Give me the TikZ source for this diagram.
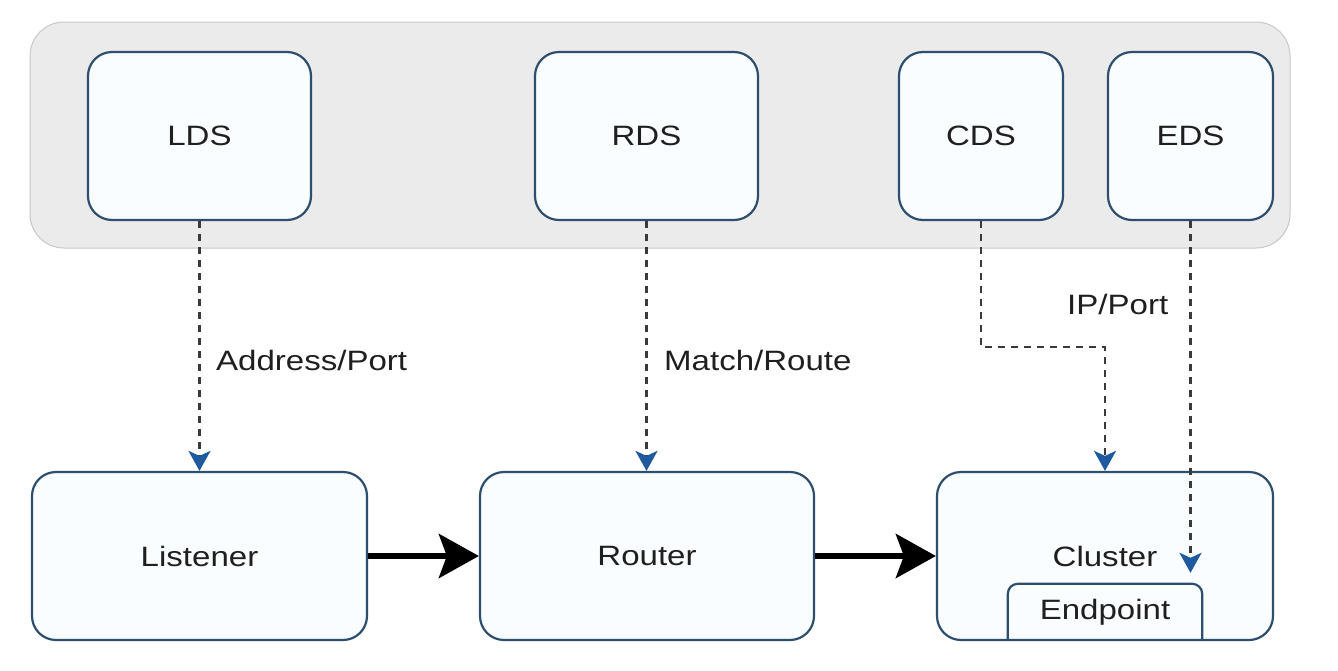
\documentclass[tikz,border=0pt]{standalone}
\usepackage{fontspec}
\setmainfont[FakeStretch=1.18]{Liberation Sans}
\usetikzlibrary{arrows.meta}
\definecolor{panelgray}{HTML}{EBEBEB}
\definecolor{panelline}{HTML}{C8C8C8}
\definecolor{boxline}{HTML}{2E4E6E}
\definecolor{boxfill}{HTML}{FAFDFF}
\definecolor{tipblue}{HTML}{1F5A9E}
\definecolor{dashgray}{HTML}{3A3A3A}
\begin{document}
\begin{tikzpicture}[x=1pt,y=-1pt,
  box/.style={draw=boxline, line width=2.2pt, fill=boxfill, rounded corners=24pt,
    font=\fontsize{28}{32}\selectfont, text=black!88, inner sep=0pt},
  lbl/.style={font=\fontsize{28}{32}\selectfont, text=black!88, inner sep=0pt, anchor=west},
  dasharrow/.style={draw=dashgray, line width=2.8pt, dash pattern=on 7pt off 6pt,
    -{Stealth[length=20pt,width=22pt,inset=5pt,color=tipblue]}},
  flow/.style={draw=black, line width=6pt,
    -{Stealth[length=40pt,width=44pt,inset=8pt]}}
]
\useasboundingbox (0,0) rectangle (1338,670);
\fill[white] (0,0) rectangle (1338,670);
\draw[panelline, fill=panelgray, line width=1pt, rounded corners=34pt] (30,22) rectangle (1290,248);

\node[box, minimum width=223pt, minimum height=168pt] (LDS) at (199.5,136) {LDS};
\node[box, minimum width=223pt, minimum height=168pt] (RDS) at (646.5,136) {RDS};
\node[box, minimum width=164pt, minimum height=168pt] (CDS) at (981,136) {CDS};
\node[box, minimum width=165pt, minimum height=168pt] (EDS) at (1190.5,136) {EDS};

\node[box, minimum width=335pt, minimum height=168pt] (Listener) at (199.5,556) {Listener};
\node[box, minimum width=334pt, minimum height=168pt] (Router) at (647,556) {Router};
\node[box, minimum width=336pt, minimum height=168pt] (Cluster) at (1105,556) {Cluster};
\node[font=\fontsize{28}{32}\selectfont, text=black!88, inner sep=0pt,
  minimum width=194pt, minimum height=56pt] (Endpoint) at (1105,612) {Endpoint};
\draw[draw=boxline, line width=2.2pt, rounded corners=10pt]
  (Endpoint.south west) |- (Endpoint.north) -| (Endpoint.south east);

\node[lbl] (addr) at (216,360) {Address/Port};
\node[lbl] (match) at (664,360) {Match/Route};
\node[lbl] (ipport) at (1067,304) {IP/Port};

\coordinate (knee) at (1105,347);
\draw[dasharrow] (LDS.south) -- (Listener.north);
\draw[dasharrow] (RDS.south) -- (RDS.south |- Router.north);
\draw[dasharrow] (CDS.south) |- (knee) -- (Cluster.north);
\draw[dasharrow, shorten >=11pt] (EDS.south) -- (EDS.south |- Endpoint.north);

\draw[flow] (Listener.east) -- (Router.west);
\draw[flow] (Router.east) -- (Cluster.west);
\end{tikzpicture}
\end{document}
